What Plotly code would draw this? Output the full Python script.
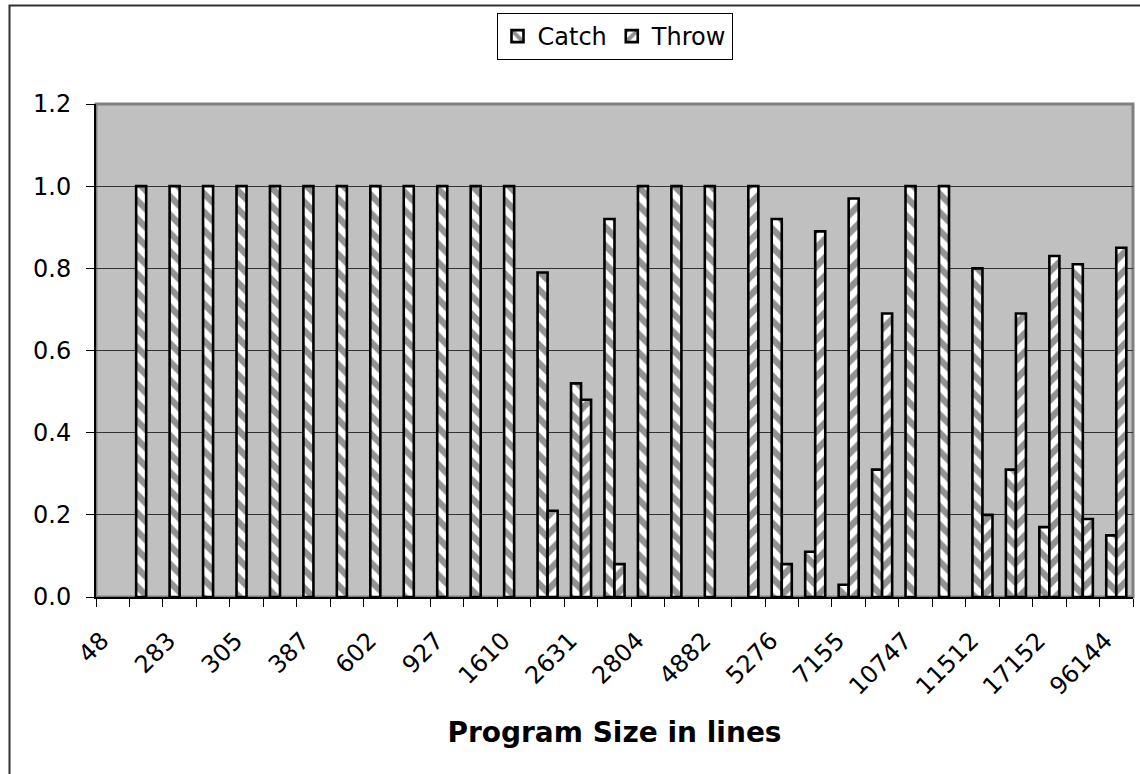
import plotly.graph_objects as go

# ---- data ----
n_categories = 31
tick_labels = ["48", "283", "305", "387", "602", "927", "1610", "2631",
               "2804", "4882", "5276", "7155", "10747", "11512", "17152", "96144"]
catch_vals = [0, 1.0, 1.0, 1.0, 1.0, 1.0, 1.0, 1.0, 1.0, 1.0, 1.0, 1.0, 1.0,
              0.79, 0.52, 0.92, 1.0, 1.0, 1.0, 0, 0.92, 0.11, 0.03, 0.31,
              1.0, 1.0, 0.80, 0.31, 0.17, 0.81, 0.15]
throw_vals = [0, 0, 0, 0, 0, 0, 0, 0, 0, 0, 0, 0, 0,
              0.21, 0.48, 0.08, 0, 0, 0, 1.0, 0.08, 0.89, 0.97, 0.69,
              0, 0, 0.20, 0.69, 0.83, 0.19, 0.85]
y_ticks = [0.0, 0.2, 0.4, 0.6, 0.8, 1.0, 1.2]

x_idx = list(range(n_categories))
label_pos = x_idx[::2]
boundaries = [i - 0.5 for i in range(n_categories + 1)]


def drawn(vals):
    # zero-height bars are not drawn in the reference
    return [v if v else None for v in vals]


FONT = "DejaVu Sans"

fig = go.Figure()
fig.add_trace(go.Bar(
    x=x_idx, y=drawn(catch_vals), name="Catch",
    marker=dict(color="white", line=dict(color="black", width=2.6),
                pattern=dict(shape="\\", fgcolor="#252525", bgcolor="white",
                             size=13, solidity=0.5)),
))
fig.add_trace(go.Bar(
    x=x_idx, y=drawn(throw_vals), name="Throw",
    marker=dict(color="white", line=dict(color="black", width=2.6),
                pattern=dict(shape="/", fgcolor="#252525", bgcolor="white",
                             size=13, solidity=0.5)),
))

fig.update_layout(
    width=1140, height=774,
    margin=dict(l=96, r=7, t=104, b=177, autoexpand=False),
    paper_bgcolor="white",
    plot_bgcolor="#C0C0C0",
    barmode="group", bargap=0.40, bargroupgap=0.0,
    font=dict(family=FONT, size=22, color="black"),
    showlegend=True,
    legend=dict(orientation="h", x=0.5, xanchor="center",
                y=(597 - 13) / 493, yanchor="top",
                bgcolor="white", bordercolor="black", borderwidth=1,
                font=dict(family=FONT, size=24, color="black"),
                itemwidth=30, traceorder="normal"),
    xaxis=dict(
        range=[-0.5, n_categories - 0.5],
        tickmode="array", tickvals=label_pos, ticktext=tick_labels,
        ticks="", tickangle=-45, ticklabelstandoff=18, ticklabelshift=-11,
        tickfont=dict(family=FONT, size=24),
        showgrid=False, zeroline=False,
        showline=True, linecolor="black", linewidth=2,
        minor=dict(tickmode="array", tickvals=boundaries, ticks="outside",
                   ticklen=8, tickcolor="black", tickwidth=1, showgrid=False),
        title=dict(text="<b>Program Size in lines</b>",
                   font=dict(family=FONT, size=28), standoff=23),
        automargin=False,
    ),
    yaxis=dict(
        range=[0, 1.2], tickmode="array", tickvals=y_ticks,
        tickformat=".1f", ticks="outside", ticklen=8, tickcolor="black",
        ticklabelstandoff=10,
        tickfont=dict(family=FONT, size=24),
        showgrid=True, gridcolor="#333333", gridwidth=1,
        zeroline=False, showline=True, linecolor="black", linewidth=2,
        automargin=False,
    ),
    shapes=[
        # plot area border
        dict(type="rect", xref="paper", yref="paper", x0=0, x1=1, y0=0, y1=1,
             line=dict(color="#808080", width=3), layer="below"),
        # chart area border
        dict(type="rect", xref="paper", yref="paper",
             x0=(9.5 - 96) / 1037, x1=(1150 - 96) / 1037,
             y0=(597 - 790) / 493, y1=(597 - 5.5) / 493,
             line=dict(color="#303030", width=2), fillcolor="rgba(0,0,0,0)",
             layer="below"),
    ],
)

fig.write_html("out.html")
